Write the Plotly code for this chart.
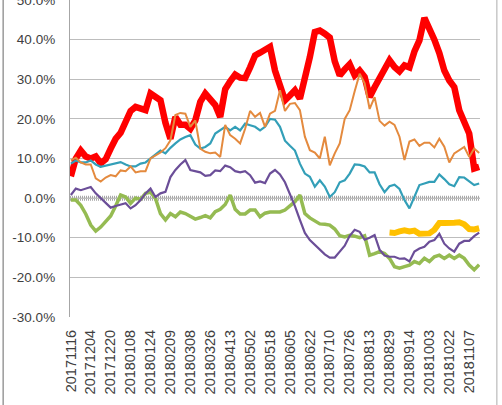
import plotly.graph_objects as go

# trading day numbers of the sampled points (0 = 20171116), one sample every 3 trading days
sample_days = list(range(0, 247, 3))

tick_days = list(range(0, 241, 12))
tick_dates = ["20171116", "20171204", "20171220", "20180108", "20180124", "20180209",
              "20180308", "20180326", "20180413", "20180502", "20180518", "20180605",
              "20180622", "20180710", "20180726", "20180813", "20180829", "20180914",
              "20181003", "20181022", "20181107"]

y_ticks = [-30, -20, -10, 0, 10, 20, 30, 40, 50]
y_tick_text = ["-30.0%", "-20.0%", "-10.0%", "0.0%", "10.0%", "20.0%", "30.0%", "40.0%", "50.0%"]

red = [5.5, 10, 12, 10.5, 10, 10.5, 8.8, 9.8, 12.5, 15,
       16.5, 19, 22, 23, 22.6, 22.2, 26.4, 25.5, 24.7, 19,
       15, 20.5, 18.5, 18.5, 17.5, 19.6, 24.3, 26.4, 25, 23.5,
       20.5, 27.5, 29.5, 31.2, 30.4, 30.3, 33, 36, 36.7, 37.3,
       38.2, 32.2, 28, 24.7, 25.9, 27.2, 25.1, 29.7, 35.6, 41.9,
       42.3, 41.5, 40.5, 34.5, 31, 32.5, 33.8, 31, 32.2, 30.6,
       25.5, 28, 30.5, 32.5, 34.8, 33.1, 32, 33.5, 33, 37,
       39.8, 45.5, 43.1, 40, 36.6, 32.2, 29.7, 28, 22.2, 19.6,
       16.3, 7.5, 7.9]

orange = [9.5, 10.2, 9, 8.5, 8.5, 5, 4.2, 5.2, 5.8, 5.5,
          7, 6.8, 8, 6.5, 6.8, 6.8, 10, 10.7, 11.5, 12.6,
          14.6, 21, 21.5, 21.3, 18, 19.6, 12.5, 11.7, 11.3, 11.5,
          10.4, 18.5, 15.9, 15, 13.8, 17.5, 22, 20.5, 21.5, 18,
          21.3, 22, 27.2, 22, 23.8, 24, 22.2, 15.5, 12.1, 11.5,
          10, 15.5, 8.3, 11.3, 13.8, 20, 22.2, 27, 31.4, 29,
          22.5, 25.5, 19.5, 18.3, 19.3, 18.5, 15.5, 9.6, 14.3, 14.8,
          13.2, 14, 14, 12.8, 15, 13, 9, 11.3, 12.1, 12.9,
          10.4, 12.5, 11.4]

teal = [8.7, 9.5, 9, 9, 9.5, 8.5, 7.9, 8.2, 8.5, 8.8,
        9.1, 8.5, 8, 8, 8.7, 9, 10, 11, 12, 11.3,
        12.7, 13.8, 14.8, 15.4, 15.9, 13.5, 12.5, 12.9, 13.8, 16.3,
        17.1, 18, 17.1, 18, 17.1, 18.8, 18.4, 18, 17.1, 18,
        20, 19.8, 18, 14.5, 13.2, 12, 8.7, 6.2, 5.4, 2.9,
        4.5, 2.9, 0.3, 1.5, 4, 4.5, 6.2, 8.5, 8.4, 8,
        6.5, 6.5, 3.5, 1.5, 3, 3.4, 2.3, -0.5, -2.6, 0.5,
        3.3, 3.7, 4.1, 4.1, 6, 4.8, 3.5, 3, 5.3, 5.2,
        4.3, 3.3, 3.7]

purple = [0.8, 2.4, 2, 2.4, 2.8, 1.2, 0, -1.2, -2.4, -2,
          -1.6, -1.3, -2.6, -1.8, -0.5, 1.2, 2.4, 0.3, 1.2, 1.6,
          5.3, 7.1, 8.5, 9.6, 7.1, 6.8, 6.5, 5.6, 5.8, 7,
          6.8, 8.2, 7.8, 6.8, 6.5, 6.8, 5.8, 3.9, 4.2, 3.8,
          6.2, 7.1, 6, 4, 1, -2, -5.5, -8.8, -10.6, -11.8,
          -13, -14.2, -15, -15, -13.5, -12, -9.5, -8, -8.5, -10.5,
          -10, -9.3, -13, -14.5, -14.8, -14.8, -15.3, -15.2, -16, -13.5,
          -12.7, -12.3, -11, -10.6, -9, -11.5, -12.7, -13.5, -11.5, -10.8,
          -10.8, -9.6, -8.7]

green = [-0.5, -0.5, -1.8, -4, -6.8, -8.3, -7.3, -6, -4.5, -2,
         0.8, 0.3, -1.3, 0, -0.3, 1.2, 1.5, -0.1, -3.9, -5.5,
         -3.9, -4.7, -3.5, -3.9, -4.7, -5.3, -4.9, -4.4, -5, -3.4,
         -2.8, -1.6, 0.8, -2.8, -4, -4, -3, -3, -4.7, -3.8,
         -3.5, -3.6, -3.5, -3, -1.8, -0.9, 0.8, -3.9, -5, -5.8,
         -6.5, -6.6, -6.8, -7.8, -9.5, -9.8, -9.4, -9.6, -10, -9.5,
         -14.4, -14, -13.5, -14, -15.2, -17.3, -17.7, -17.3, -16.9, -16,
         -16.5, -15.2, -16, -14.8, -14.4, -15.2, -14.4, -15.2, -14.4, -15.2,
         -16.9, -18.1, -16.8]

# yellow series only starts on 20180829
yellow = [-8.7, -8.8, -8.4, -8.1, -8.4, -8.2, -9, -9.1, -8.9, -8,
          -6.3, -6.3, -6.1, -6.2, -6.1, -6.6, -7.8, -7.9, -7.6]
yellow_days = sample_days[len(sample_days) - len(yellow):]

fig = go.Figure()
fig.add_trace(go.Scatter(x=sample_days, y=red, mode="lines",
                         line=dict(color="#FF0000", width=6.5)))
fig.add_trace(go.Scatter(x=yellow_days, y=yellow, mode="lines",
                         line=dict(color="#FFC000", width=6)))
fig.add_trace(go.Scatter(x=sample_days, y=green, mode="lines",
                         line=dict(color="#95BB52", width=3.5)))
fig.add_trace(go.Scatter(x=sample_days, y=purple, mode="lines",
                         line=dict(color="#6B4E98", width=2.2)))
fig.add_trace(go.Scatter(x=sample_days, y=teal, mode="lines",
                         line=dict(color="#339FB8", width=2.2)))
fig.add_trace(go.Scatter(x=sample_days, y=orange, mode="lines",
                         line=dict(color="#E48A3E", width=2)))

# zero axis with its dense tick marks
fig.add_shape(type="line", xref="paper", x0=0, x1=1, y0=0, y1=0,
              line=dict(color="#A8A8A8", width=5, dash="1px,1px"), layer="below")
fig.add_shape(type="line", xref="paper", x0=0, x1=1, y0=0, y1=0,
              line=dict(color="#A8A8A8", width=1), layer="below")

# outer chart frame
fig.add_shape(type="line", xref="paper", yref="paper", x0=-0.163, x1=-0.163, y0=-0.3, y1=1.1,
              line=dict(color="#9A9A9A", width=1.5))
fig.add_shape(type="line", xref="paper", yref="paper", x0=1.041, x1=1.041, y0=-0.3, y1=1.1,
              line=dict(color="#C8C8C8", width=1.5))

fig.update_layout(
    width=502, height=405,
    margin=dict(l=70, r=22, t=0, b=88),
    paper_bgcolor="white", plot_bgcolor="white",
    showlegend=False,
    font=dict(family="Liberation Sans, Arial", color="#404040"),
)
fig.update_xaxes(
    range=[-0.5, 246.5], automargin=False,
    tickmode="array", tickvals=tick_days, ticktext=tick_dates,
    tickangle=-90, tickfont=dict(size=14.5),
    showgrid=False, zeroline=False, showline=False, ticks="",
    ticklabelstandoff=9,
)
fig.update_yaxes(
    range=[-30, 50], automargin=False,
    tickmode="array", tickvals=y_ticks, ticktext=y_tick_text,
    tickfont=dict(size=13.5), ticklabeloverflow="allow",
    showgrid=True, gridcolor="#BDBDBD", gridwidth=1.3,
    zeroline=False, showline=True, linecolor="#A6A6A6", linewidth=1.3,
    ticks="", ticklabelstandoff=11,
)

fig.write_html("out.html", config={"displayModeBar": False},
               post_script="document.body.style.margin = '0';")
